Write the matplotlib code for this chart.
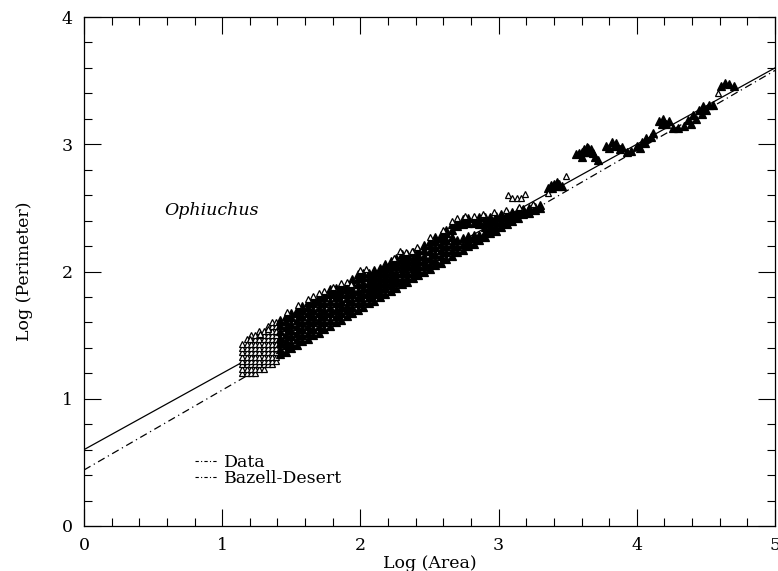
import matplotlib
matplotlib.use("Agg")
import matplotlib.pyplot as plt
from matplotlib.lines import Line2D
import numpy as np

# ---- data ----
# fitted lines (intercept, slope) in log-log space
data_fit = (0.60, 0.600)
bazell_fit = (0.44, 0.628)

# low-area lattice of open triangles (column x, list of y)
grid_cols_x = [1.145, 1.176, 1.207, 1.238, 1.269, 1.300, 1.330, 1.360, 1.390]
grid_cols_y = [
    [1.20, 1.23, 1.27, 1.30, 1.33, 1.37, 1.40, 1.43],
    [1.20, 1.23, 1.27, 1.30, 1.33, 1.37, 1.40, 1.43, 1.47],
    [1.20, 1.23, 1.27, 1.30, 1.33, 1.37, 1.40, 1.43, 1.47, 1.50],
    [1.20, 1.23, 1.27, 1.30, 1.33, 1.37, 1.40, 1.43, 1.47, 1.50],
    [1.23, 1.27, 1.30, 1.33, 1.37, 1.40, 1.43, 1.47, 1.50, 1.53],
    [1.23, 1.27, 1.30, 1.33, 1.37, 1.40, 1.43, 1.47, 1.50, 1.53],
    [1.27, 1.30, 1.33, 1.37, 1.40, 1.43, 1.47, 1.50, 1.53, 1.57],
    [1.27, 1.30, 1.33, 1.37, 1.40, 1.43, 1.47, 1.50, 1.53, 1.57, 1.60],
    [1.30, 1.33, 1.37, 1.40, 1.43, 1.47, 1.50, 1.53, 1.57, 1.60],
]

# dense (overlapping, black) band of clouds (column x, list of y)
band_cols_x = [1.42, 1.46, 1.50, 1.54, 1.58, 1.62, 1.66, 1.70, 1.74, 1.78,
               1.82, 1.86, 1.90, 1.94, 1.98, 2.02, 2.06, 2.10, 2.14, 2.18,
               2.22, 2.26, 2.30, 2.34, 2.38, 2.42, 2.46, 2.50, 2.54, 2.58,
               2.62, 2.66, 2.70, 2.74, 2.78, 2.82, 2.86, 2.90, 2.94, 2.98,
               3.02, 3.06, 3.10, 3.14, 3.18, 3.22, 3.26, 3.30]
band_cols_y = [
    [1.35, 1.39, 1.44, 1.48, 1.53, 1.58, 1.62],
    [1.37, 1.42, 1.46, 1.51, 1.56, 1.61, 1.65],
    [1.40, 1.44, 1.49, 1.54, 1.59, 1.64, 1.67],
    [1.42, 1.47, 1.52, 1.57, 1.62, 1.67, 1.70],
    [1.45, 1.50, 1.55, 1.60, 1.65, 1.70, 1.73],
    [1.47, 1.52, 1.57, 1.62, 1.67, 1.72, 1.76],
    [1.50, 1.55, 1.60, 1.65, 1.70, 1.75, 1.79],
    [1.52, 1.57, 1.62, 1.67, 1.72, 1.77, 1.81],
    [1.55, 1.60, 1.65, 1.70, 1.75, 1.80, 1.83],
    [1.57, 1.62, 1.67, 1.72, 1.77, 1.82, 1.86],
    [1.60, 1.65, 1.70, 1.75, 1.80, 1.84, 1.87],
    [1.62, 1.67, 1.72, 1.77, 1.82, 1.86, 1.89],
    [1.65, 1.70, 1.74, 1.79, 1.83, 1.87, 1.90],
    [1.67, 1.72, 1.77, 1.82, 1.86, 1.91, 1.94],
    [1.70, 1.75, 1.80, 1.85, 1.90, 1.95, 1.98],
    [1.72, 1.77, 1.82, 1.87, 1.91, 1.96, 1.99],
    [1.75, 1.80, 1.84, 1.88, 1.92, 1.96, 1.99],
    [1.77, 1.82, 1.86, 1.90, 1.94, 1.98, 2.01],
    [1.80, 1.84, 1.88, 1.92, 1.96, 2.00, 2.03],
    [1.82, 1.87, 1.91, 1.95, 1.99, 2.03, 2.06],
    [1.85, 1.89, 1.93, 1.97, 2.01, 2.05, 2.08],
    [1.87, 1.92, 1.96, 2.00, 2.04, 2.08, 2.11],
    [1.90, 1.94, 1.99, 2.03, 2.07, 2.11, 2.14],
    [1.92, 1.96, 2.00, 2.04, 2.08, 2.12, 2.14],
    [1.95, 1.99, 2.03, 2.07, 2.11, 2.15],
    [1.97, 2.01, 2.05, 2.09, 2.13, 2.17],
    [2.00, 2.04, 2.08, 2.12, 2.17, 2.21],
    [2.02, 2.06, 2.11, 2.16, 2.21, 2.24],
    [2.05, 2.09, 2.14, 2.19, 2.24, 2.27],
    [2.07, 2.12, 2.17, 2.22, 2.26, 2.29],
    [2.10, 2.15, 2.20, 2.25, 2.30, 2.33],
    [2.12, 2.17, 2.22, 2.27, 2.33, 2.37],
    [2.15, 2.20, 2.25, 2.36, 2.39],
    [2.17, 2.22, 2.26, 2.37, 2.41],
    [2.20, 2.24, 2.28, 2.38, 2.42],
    [2.22, 2.26, 2.29, 2.38, 2.42],
    [2.25, 2.29, 2.37, 2.40, 2.43],
    [2.27, 2.31, 2.35, 2.39, 2.43],
    [2.30, 2.34, 2.38, 2.41, 2.43],
    [2.32, 2.36, 2.40, 2.44],
    [2.35, 2.39, 2.43, 2.45],
    [2.37, 2.41, 2.44, 2.46],
    [2.40, 2.44, 2.47],
    [2.42, 2.46, 2.48],
    [2.45, 2.48, 2.49],
    [2.46, 2.49, 2.50],
    [2.48, 2.50, 2.51],
    [2.50, 2.52],
]

# isolated open triangles (along the band edge and above it)
sparse_x = [1.20, 1.27, 1.33, 1.47, 1.55, 1.62, 1.66, 1.70, 1.74, 1.80, 1.86,
            1.90, 1.93, 2.00, 2.04, 2.24, 2.29, 2.33, 2.37, 2.41, 2.50, 2.60,
            2.66, 2.70, 2.76, 2.82, 2.89, 2.97, 3.07, 3.10, 3.13, 3.16, 3.19,
            3.36, 3.49, 3.05, 3.15, 3.25]
sparse_y = [1.47, 1.51, 1.55, 1.68, 1.74, 1.78, 1.81, 1.83, 1.85, 1.88, 1.91,
            1.92, 1.90, 2.01, 2.02, 2.11, 2.16, 2.15, 2.16, 2.19, 2.27, 2.33,
            2.40, 2.42, 2.44, 2.44, 2.45, 2.47, 2.60, 2.58, 2.58, 2.58, 2.61,
            2.62, 2.75, 2.48, 2.51, 2.53]

# black clumps at large area
clump_x = [3.36, 3.38, 3.40, 3.42, 3.44, 3.46, 3.39, 3.43,
           3.56, 3.58, 3.60, 3.62, 3.64, 3.65, 3.67, 3.68, 3.70, 3.72, 3.60, 3.64, 3.66,
           3.78, 3.82, 3.85, 3.89, 3.93, 3.96, 4.00, 4.04, 4.07, 4.12,
           3.80, 3.84, 3.88, 4.02, 4.06, 4.10,
           4.16, 4.19, 4.23, 4.26, 4.30, 4.34, 4.37, 4.41, 4.45, 4.48, 4.52, 4.55,
           4.18, 4.21, 4.39, 4.43, 4.47, 4.50,
           4.61, 4.64, 4.67, 4.70]
clump_y = [2.66, 2.68, 2.69, 2.70, 2.69, 2.67, 2.66, 2.67,
           2.92, 2.93, 2.94, 2.96, 2.98, 2.97, 2.96, 2.93, 2.90, 2.88, 2.90, 2.94, 2.94,
           2.99, 3.02, 3.01, 2.98, 2.94, 2.95, 2.99, 3.02, 3.05, 3.09,
           2.97, 2.99, 2.96, 2.97, 3.01, 3.06,
           3.18, 3.20, 3.18, 3.13, 3.13, 3.14, 3.19, 3.23, 3.27, 3.30, 3.31, 3.31,
           3.16, 3.16, 3.16, 3.20, 3.24, 3.27,
           3.46, 3.48, 3.47, 3.46]
lone_x = [4.59]
lone_y = [3.40]

# ---- assemble points ----
gx, gy = [], []
for cx, ys in zip(grid_cols_x, grid_cols_y):
    gx += [cx] * len(ys); gy += ys
bx, by = [], []
for cx, ys in zip(band_cols_x, band_cols_y):
    bx += [cx] * len(ys); by += ys

plt.rcParams['font.family'] = ['DejaVu Serif']
fig = plt.figure(figsize=(7.78, 5.71), dpi=100)
ax = fig.add_axes([84/778, 45/571, 691/778, 509/571])

xl = np.array([0, 5])
ax.plot(xl, data_fit[0] + data_fit[1]*xl, color='black', lw=0.9, zorder=1)
ax.plot(xl, bazell_fit[0] + bazell_fit[1]*xl, color='black', lw=0.9,
        linestyle=(0, (6, 3, 1, 3)), zorder=1)

open_kw = dict(linestyle='none', marker='^', markersize=4.2, markerfacecolor='white',
               markeredgecolor='black', markeredgewidth=0.9)
fill_kw = dict(linestyle='none', marker='^', markersize=6.4, markerfacecolor='black',
               markeredgecolor='black', markeredgewidth=0.9)
ax.plot(gx, gy, zorder=2, **open_kw)
ax.plot(bx, by, zorder=3, **fill_kw)
ax.plot(sparse_x, sparse_y, zorder=4, **open_kw)
ax.plot(clump_x, clump_y, zorder=3, **fill_kw)
ax.plot(lone_x, lone_y, zorder=4, **open_kw)

ax.set_xlim(0, 5)
ax.set_ylim(0, 4)
ax.set_xticks([0, 1, 2, 3, 4, 5])
ax.set_yticks([0, 1, 2, 3, 4])
ax.set_xticks(np.arange(0, 5.01, 0.2), minor=True)
ax.set_yticks(np.arange(0, 4.01, 0.2), minor=True)
ax.tick_params(which='both', direction='in', top=True, right=True, width=0.8,
               labelsize=12.5)
ax.tick_params(which='major', length=12, pad=8)
ax.tick_params(which='minor', length=6)
for s in ax.spines.values():
    s.set_linewidth(0.9)

ax.set_xlabel('Log (Area)', fontsize=12.5, labelpad=1)
ax.set_ylabel('Log (Perimeter)', fontsize=12.5, labelpad=21)

ax.text(0.92, 2.48, 'Ophiuchus', style='italic', fontsize=12.5, ha='center', va='center')

handles = [Line2D([], [], color='black', lw=0.8, linestyle=(0, (3, 2, 1, 2))),
           Line2D([], [], color='black', lw=0.8, linestyle=(0, (3, 2, 1, 2)))]
ax.legend(handles, ['Data', 'Bazell-Desert'], loc='upper left',
          bbox_to_anchor=(0.16, 0.142), frameon=False, fontsize=12.5,
          handlelength=1.3, handletextpad=0.4, labelspacing=-0.02,
          borderpad=0, borderaxespad=0)

fig.savefig('out.png', dpi=100)
